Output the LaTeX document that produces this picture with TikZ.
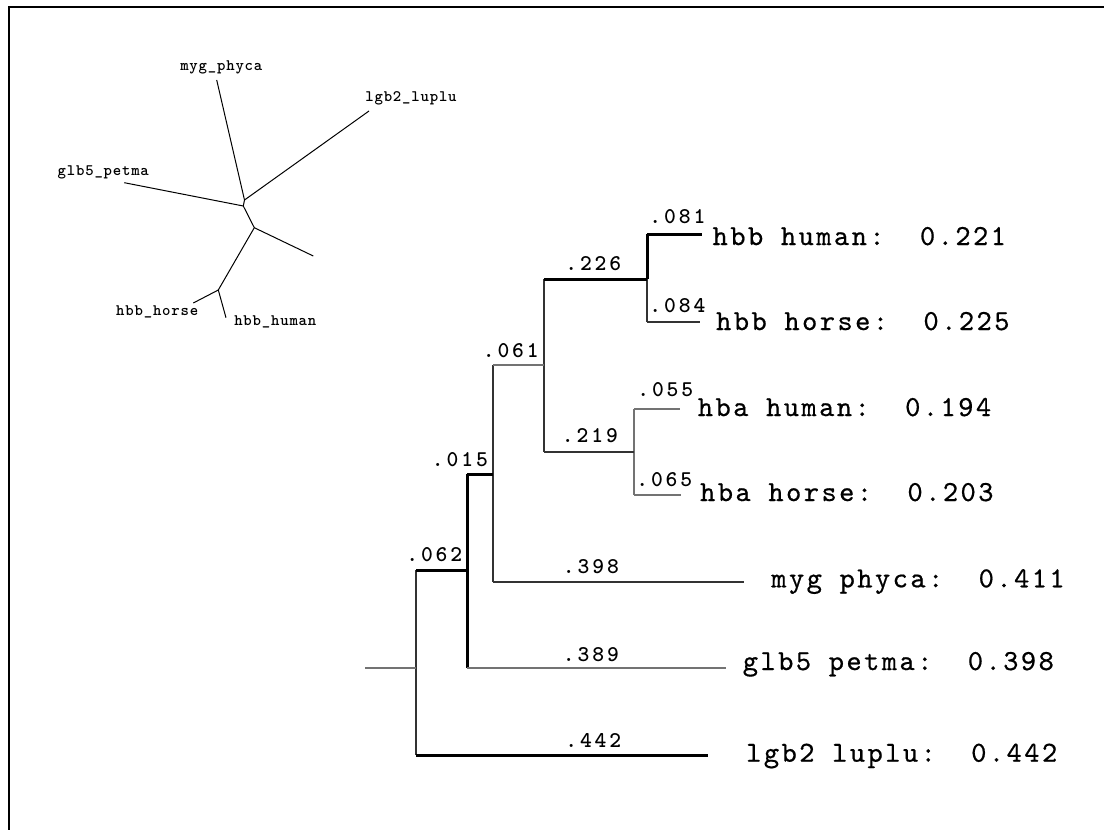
\documentclass[tikz,border=0pt]{standalone}
\usepackage{fontspec}
\newfontfamily\leaffont[LetterSpace=8.5,FakeBold=0.6]{lmmono10-regular.otf}
\newfontfamily\brfont[LetterSpace=13]{lmmonolt10-bold.otf}
\newfontfamily\smfont[LetterSpace=5]{lmmonolt10-bold.otf}
\tikzset{
  frameline/.style={line width=2pt, black},
  brthick/.style={line width=3pt, black, line cap=square},
  brmid/.style={line width=2pt, black!80, line cap=square},
  brlight/.style={line width=2pt, black!55, line cap=square},
  utree/.style={line width=1pt, black},
  leaflabel/.style={inner sep=0pt, anchor=base, font=\leaffont\fontsize{29}{30}\selectfont},
  brlabel/.style={inner sep=0pt, anchor=base, font=\brfont\fontsize{22.5}{24}\selectfont},
  smlabel/.style={inner sep=0pt, anchor=base, font=\smfont\fontsize{16}{17}\selectfont},
}
\begin{document}
\begin{tikzpicture}[x=1pt,y=-1pt]
\useasboundingbox (0,0) rectangle (1104,830);
\fill[white] (0,0) rectangle (1104,830);
\draw[frameline] (8.5,830) -- (8.5,7) -- (1104,7);

% ---------- unrooted tree ----------
\coordinate (u1) at (244.5,200);
\coordinate (u2) at (243.3,206);
\coordinate (u3) at (254.3,227.7);
\coordinate (u4) at (218.3,290);
\coordinate (umyg) at (216.7,80);
\coordinate (ulgb) at (369,111);
\coordinate (uglb) at (124.3,182.7);
\coordinate (uhba) at (313.3,256);
\coordinate (uhbu) at (226,317.7);
\coordinate (uhbh) at (193.3,303);
\draw[utree] (umyg) -- (u1) -- (u2) -- (u3) -- (u4) -- (uhbu);
\draw[utree] (ulgb) -- (u1);
\draw[utree] (uglb) -- (u2);
\draw[utree] (u3) -- (uhba);
\draw[utree] (u4) -- (uhbh);
\node[smlabel] (tmyg) at (221.3,70) {myg\_phyca};
\node[smlabel] (tlgb) at (411,101.7) {lgb2\_luplu};
\node[smlabel] (tglb) at (103.3,175) {glb5\_petma};
\node[smlabel] (thbh) at (157.2,315) {hbb\_horse};
\node[smlabel] (thbu) at (275.3,325.7) {hbb\_human};

% ---------- rooted tree ----------
\coordinate (r0) at (365,668);
\coordinate (R)  at (416,668);
\coordinate (N1) at (467,570);
\coordinate (N2) at (493,474);
\coordinate (N3) at (544,365);
\coordinate (N4) at (647,279);
\coordinate (N5) at (634,452);
\coordinate (E1) at (702,234);
\coordinate (E2) at (700,322);
\coordinate (E3) at (680,409);
\coordinate (E4) at (681,495);
\coordinate (E5) at (744,582);
\coordinate (E6) at (726,668);
\coordinate (E7) at (708,755);

% verticals
\draw[brmid]   (R |- N1) -- (R |- E7);
\draw[brthick] (N1 |- N2) -- (N1 |- E6);
\draw[brmid]   (N2 |- N3) -- (N2 |- E5);
\draw[brmid]   (N3 |- N4) -- (N3 |- N5);
\draw[brthick] (N4) -- (N4 |- E1);
\draw[brmid]   (N4) -- (N4 |- E2);
\draw[brlight] (N5 |- E3) -- (N5 |- E4);
% horizontals
\draw[brlight] (r0) -- (R);
\draw[brthick] (R |- N1) -- (N1);
\draw[brthick] (R |- E7) -- (E7);
\draw[brthick] (N1 |- N2) -- (N2);
\draw[brlight] (N1 |- E6) -- (E6);
\draw[brlight] (N2 |- N3) -- (N3);
\draw[brmid]   (N2 |- E5) -- (E5);
\draw[brthick] (N3 |- N4) -- (N4);
\draw[brmid]   (N3 |- N5) -- (N5);
\draw[brthick] (N4 |- E1) -- (E1);
\draw[brmid]   (N4 |- E2) -- (E2);
\draw[brlight] (N5 |- E3) -- (E3);
\draw[brlight] (N5 |- E4) -- (E4);

% branch lengths
\node[brlabel] (b081) at (677.5,223.3) {.081};
\node[brlabel] (b084) at (677.5,312.3) {.084};
\node[brlabel] (b226) at (593.3,270) {.226};
\node[brlabel] (b061) at (510.8,357.3) {.061};
\node[brlabel] (b055) at (665.3,396) {.055};
\node[brlabel] (b219) at (590,442.7) {.219};
\node[brlabel] (b065) at (664.3,486) {.065};
\node[brlabel] (b015) at (460,466.7) {.015};
\node[brlabel] (b062) at (434.3,561) {.062};
\node[brlabel] (b398) at (591,573.3) {.398};
\node[brlabel] (b389) at (591,661.7) {.389};
\node[brlabel] (b442) at (593.3,747.3) {.442};

% leaf labels
\node[leaflabel] (l1) at (859.3,245) {hbb human:~~0.221};
\node[leaflabel] (l2) at (862.8,330) {hbb horse:~~0.225};
\node[leaflabel] (l3) at (844.5,416) {hba human:~~0.194};
\node[leaflabel] (l4) at (846.8,501) {hba horse:~~0.203};
\node[leaflabel] (l5) at (918,587.3) {myg phyca:~~0.411};
\node[leaflabel] (l6) at (898.3,670) {glb5 petma:~~0.398};
\node[leaflabel] (l7) at (901.7,761.7) {lgb2 luplu:~~0.442};
\end{tikzpicture}
\end{document}
